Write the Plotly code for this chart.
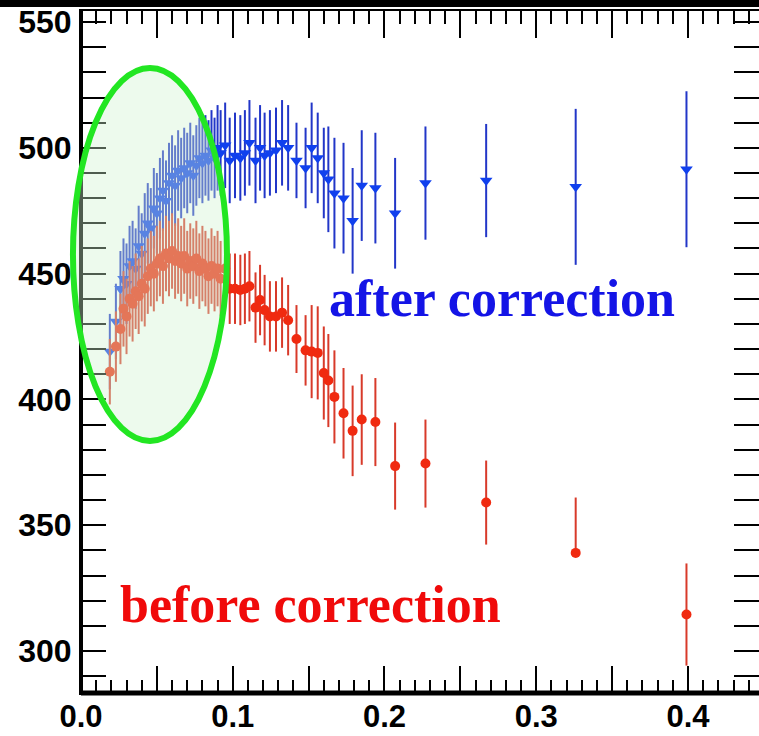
import plotly.graph_objects as go

# ---------------- data ----------------
x_vals = [0.019, 0.023, 0.026, 0.028, 0.030, 0.032, 0.034, 0.036, 0.038, 0.040,
          0.042, 0.044, 0.046, 0.048, 0.050, 0.052, 0.054, 0.056, 0.058, 0.060,
          0.062, 0.064, 0.066, 0.068, 0.070, 0.072, 0.074, 0.076, 0.078, 0.080,
          0.082, 0.084, 0.086, 0.088, 0.090, 0.092, 0.095,
          0.098, 0.1015, 0.105, 0.108, 0.111, 0.115, 0.118, 0.121, 0.1245, 0.1285,
          0.1325, 0.1365, 0.142, 0.148, 0.152, 0.156, 0.160, 0.163, 0.167, 0.173,
          0.179, 0.185, 0.194, 0.207, 0.227, 0.267, 0.326, 0.399]

after_vals = [419, 431, 444, 448, 446, 453, 455, 452, 461, 458,
              466, 470, 468, 476, 474, 480, 483, 479, 486, 489,
              485, 491, 488, 492, 490, 494, 489, 493, 496, 494,
              497, 495, 499, 496, 500, 498, 501,
              495, 497, 496, 498, 502, 495, 500, 497, 498, 499,
              502, 500, 495, 492, 500, 496, 490, 487.5, 482, 480,
              471, 485, 484, 474, 486, 487, 484.5, 491.5]

after_err = [15, 15, 15, 16, 16, 16, 16, 16, 16, 16,
             16, 16, 16, 16, 16, 16, 16, 16, 16, 16,
             16, 16, 16, 16, 16, 16, 16, 16, 16, 16,
             16, 16, 16, 16, 17, 17, 17,
             17, 17, 17, 17, 17, 17, 17, 17, 17, 17,
             17, 17, 15, 16, 18, 18, 18, 21, 22, 22,
             21, 22, 22, 22, 22.5, 22.5, 31, 31]

before_vals = [411, 421, 428, 436, 433, 440, 438, 443, 441, 446,
               444, 449, 452, 450, 454, 456, 453, 458, 456, 459,
               455, 457, 454, 457, 452, 455, 453, 456, 451, 454,
               452, 449, 453, 450, 452, 448, 452,
               444, 444, 443.5, 444, 445, 436.5, 439.5, 435.5, 433, 433,
               434.5, 431.5, 424, 419.5, 419, 418.5, 410.5, 407.5, 401, 394.5,
               387.5, 392, 391, 373.5, 374.5, 359, 339, 314.5]

before_err_up = [13, 14, 14, 15, 15, 15, 15, 15, 15, 15,
                 15, 15, 15, 15, 15, 15, 15, 15, 15, 15,
                 15, 15, 15, 15, 15, 15, 15, 15, 15, 15,
                 15, 15, 15, 15, 15, 15, 14,
                 14, 14, 14, 14, 14, 14, 14, 14, 14, 14,
                 14, 14, 13.5, 14, 18.5, 18.5, 18.5, 18.5, 18.5, 18,
                 18, 18, 17.5, 17.3, 17.5, 16.7, 22, 20.3]

before_err_down = [13, 14, 14, 15, 15, 15, 15, 15, 15, 15,
                   15, 15, 15, 15, 15, 15, 15, 15, 15, 15,
                   15, 15, 15, 15, 15, 15, 15, 15, 15, 15,
                   15, 15, 15, 15, 15, 15, 14,
                   14, 14, 14, 14, 14, 14, 14, 14, 14, 14,
                   14, 14, 13.5, 14, 18.5, 18.5, 18.5, 18.5, 18.5, 18,
                   18, 18, 17.5, 17.3, 17.5, 16.7, 0, 20.3]

x_tick_vals = [0.0, 0.05, 0.1, 0.15, 0.2, 0.25, 0.3, 0.35, 0.4, 0.45]
x_tick_text = ["0.0", "", "0.1", "", "0.2", "", "0.3", "", "0.4", ""]
y_tick_vals = list(range(290, 560, 10))
y_tick_text = [str(v) if v % 50 == 0 else "" for v in y_tick_vals]

x_range = [0.0, 0.4468]
y_range = [283.3, 554.4]

# highlighted region (data coordinates)
ell_x = [-0.0053, 0.0962]
ell_y = [383.5, 531.7]

# ---------------- figure ----------------
fig = go.Figure()

fig.add_trace(go.Scatter(
    x=x_vals, y=after_vals, mode="markers", name="after correction",
    marker=dict(symbol="triangle-down", size=11, color="#1040ee", line=dict(width=0)),
    error_y=dict(type="data", array=after_err, visible=True, thickness=2,
                 width=0, color="#2236c8"),
))
fig.add_trace(go.Scatter(
    x=x_vals, y=before_vals, mode="markers", name="before correction",
    marker=dict(symbol="circle", size=10, color="#f02a10", line=dict(width=0)),
    error_y=dict(type="data", symmetric=False, array=before_err_up,
                 arrayminus=before_err_down, visible=True, thickness=2,
                 width=0, color="#d83a2a"),
))

x_tick_font = dict(family="Liberation Sans, Arial, sans-serif", size=31,
                   color="black", weight="bold")
y_tick_font = dict(family="Liberation Sans, Arial, sans-serif", size=32,
                   color="black", weight="bold")

fig.update_xaxes(
    range=x_range, tickmode="array", tickvals=x_tick_vals, ticktext=x_tick_text,
    ticks="inside", ticklen=27, tickwidth=2, tickcolor="black",
    minor=dict(dtick=0.01, tick0=0, ticks="inside", ticklen=13, tickwidth=2,
               tickcolor="black"),
    showline=True, linecolor="black", linewidth=2, mirror="ticks",
    showgrid=False, zeroline=False, tickfont=x_tick_font, ticklabelstandoff=-5,
    automargin=False,
)
fig.update_yaxes(
    range=y_range, tickmode="array", tickvals=y_tick_vals, ticktext=y_tick_text,
    ticks="inside", ticklen=25, tickwidth=2, tickcolor="black",
    showline=True, linecolor="black", linewidth=2, mirror="ticks",
    showgrid=False, zeroline=False, tickfont=y_tick_font, ticklabelstandoff=1,
    automargin=False,
)

def px_x(v):
    return (v - x_range[0]) / (x_range[1] - x_range[0])

def px_y(v):
    return (v - y_range[0]) / (y_range[1] - y_range[0])

shapes = [
    # thick left and bottom frame lines
    dict(type="line", xref="paper", yref="paper", x0=0, x1=0, y0=0, y1=1,
         line=dict(color="black", width=4), layer="above"),
    dict(type="line", xref="paper", yref="paper", x0=0, x1=1, y0=0, y1=0,
         line=dict(color="black", width=5), layer="above"),
    # black band at the very top of the image
    dict(type="rect", xref="paper", yref="paper", x0=-0.2, x1=1.2,
         y0=1 + 4 / 682, y1=1.05, fillcolor="black", line=dict(width=0),
         layer="above"),
    # green highlight ellipse
    dict(type="circle", xref="paper", yref="paper",
         x0=px_x(ell_x[0]), x1=px_x(ell_x[1]), y0=px_y(ell_y[0]), y1=px_y(ell_y[1]),
         fillcolor="rgba(208,242,208,0.38)", line=dict(color="#22e622", width=6),
         layer="above"),
]

annotations = [
    dict(x=0.1621, y=440.0, xref="x", yref="y", text="after correction",
         showarrow=False, xanchor="left", yanchor="middle",
         font=dict(family="Liberation Serif, Times New Roman, serif", size=52,
                   color="#1414e6", weight="bold")),
    dict(x=0.0244, y=318.5, xref="x", yref="y", text="before correction",
         showarrow=False, xanchor="left", yanchor="middle",
         font=dict(family="Liberation Serif, Times New Roman, serif", size=52,
                   color="#f00a0a", weight="bold")),
]

fig.update_layout(
    width=759, height=736,
    margin=dict(l=81, r=0, t=11, b=43, pad=0),
    paper_bgcolor="white", plot_bgcolor="white",
    showlegend=False, shapes=shapes, annotations=annotations,
    hovermode=False,
)

fig.write_html("out.html")
